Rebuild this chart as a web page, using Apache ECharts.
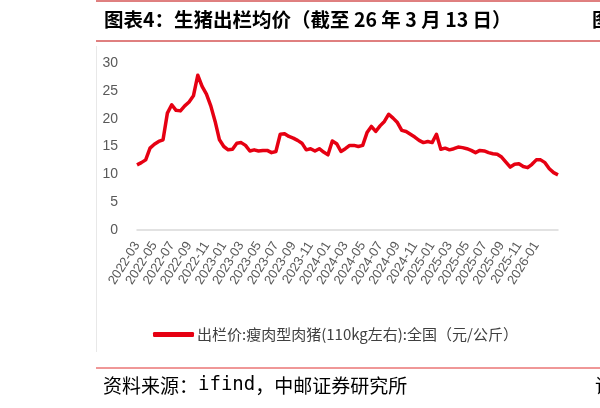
<!DOCTYPE html>
<html>
<head>
<meta charset="utf-8">
<script src="https://cdn.jsdelivr.net/npm/echarts@6/dist/echarts.min.js"></script>
<style>
html,body{margin:0;padding:0;background:#fff;}
#c{width:600px;height:408px;}
</style>
</head>
<body>
<div id="c"></div>
<script>
// Semi-monthly dates (1st and 16th of each month), last point 2026-03-13
var dates = [];
(function(){
  for (var y = 2022; y <= 2026; y++) {
    for (var m = 1; m <= 12; m++) {
      if (y === 2022 && m < 3) continue;
      if (y === 2026 && m > 3) break;
      var mm = (m < 10 ? '0' : '') + m;
      dates.push(y + '-' + mm + '-01');
      if (y === 2026 && m === 3) { dates.push('2026-03-13'); break; }
      dates.push(y + '-' + mm + '-16');
    }
  }
})();

var priceValues = [
  11.7, 12.1, 12.6, 14.7, 15.4, 15.9, 16.2, 21.0, 22.5, 21.5,
  21.4, 22.3, 23.0, 24.1, 27.8, 25.8, 24.4, 22.3, 19.5, 16.2,
  15.0, 14.4, 14.5, 15.6, 15.7, 15.2, 14.2, 14.4, 14.2, 14.3,
  14.3, 13.9, 14.1, 17.2, 17.3, 16.8, 16.5, 16.1, 15.6, 14.4,
  14.6, 14.2, 14.6, 14.0, 13.5, 16.0, 15.5, 14.1, 14.6, 15.2,
  15.2, 15.0, 15.2, 17.5, 18.6, 17.7, 18.7, 19.5, 20.8, 20.1,
  19.3, 17.9, 17.7, 17.2, 16.7, 16.1, 15.7, 15.9, 15.7, 17.2,
  14.5, 14.7, 14.4, 14.6, 14.9, 14.8, 14.6, 14.3, 13.9, 14.3,
  14.2, 13.9, 13.7, 13.6, 13.1, 12.2, 11.3, 11.8, 11.9, 11.4,
  11.2, 11.8, 12.6, 12.6, 12.1, 11.0, 10.3, 9.9
];

var seriesName = '出栏价:瘦肉型肉猪(110kg左右):全国（元/公斤）';
var titleText = '图表4：生猪出栏均价（截至 26 年 3 月 13 日）';

var chart = echarts.init(document.getElementById('c'), null, {renderer: 'canvas'});
chart.setOption({
  backgroundColor: '#fff',
  animation: false,
  grid: {left: 137, right: 42, top: 63, bottom: 178, containLabel: false},
  xAxis: {
    type: 'category',
    data: dates,
    boundaryGap: false,
    axisLine: {show: true, lineStyle: {color: '#d9d9d9', width: 1.5}},
    axisTick: {show: false},
    axisLabel: {
      interval: function (idx) { return idx % 4 === 0 && idx <= 92; },
      formatter: function (v) { return v.slice(0, 7); },
      rotate: 58,
      color: '#595959',
      fontSize: 13,
      fontFamily: 'Liberation Sans',
      margin: 13
    },
    splitLine: {show: false}
  },
  yAxis: {
    type: 'value',
    min: 0, max: 30, interval: 5,
    axisLine: {show: false},
    axisTick: {show: false},
    splitLine: {show: false},
    axisLabel: {color: '#595959', fontSize: 14, fontFamily: 'Liberation Sans', margin: 19}
  },
  legend: {
    data: [seriesName],
    left: 148, top: 322,
    icon: 'roundRect',
    itemWidth: 41, itemHeight: 5,
    itemGap: 3,
    textStyle: {color: '#404040', fontSize: 15, fontFamily: 'Noto Sans CJK SC', padding: [0, 0, 0, -2]}
  },
  series: [{
    name: seriesName,
    type: 'line',
    data: priceValues,
    showSymbol: false,
    symbol: 'none',
    lineStyle: {color: '#e60012', width: 3.5, join: 'round'},
    itemStyle: {color: '#e60012'}
  }],
  graphic: [
    {type: 'line', shape: {x1: 96, y1: 1, x2: 600, y2: 1}, style: {stroke: '#c00000', lineWidth: 1}},
    {type: 'line', shape: {x1: 96, y1: 41, x2: 600, y2: 41}, style: {stroke: '#c00000', lineWidth: 1}},
    {type: 'line', shape: {x1: 96.5, y1: 46, x2: 96.5, y2: 352}, style: {stroke: '#e8e8e8', lineWidth: 1}},
    {type: 'line', shape: {x1: 96, y1: 368, x2: 600, y2: 368}, style: {stroke: '#e03030', lineWidth: 1}},
    {type: 'text', left: 104, top: 10, style: {text: titleText, fill: '#000', font: 'bold 19.5px "Noto Sans CJK SC"'}},
    {type: 'text', left: 592, top: 10, style: {text: '图', fill: '#000', font: 'bold 19.5px "Noto Sans CJK SC"'}},
    {type: 'text', left: 103, top: 376, style: {
      text: '{a|资料来源：}{b|ifind}{a|，中邮证券研究所}',
      fill: '#000',
      rich: {
        a: {fontSize: 19, fontFamily: 'Noto Sans CJK SC', fill: '#000', fontWeight: 'normal'},
        b: {fontSize: 19, fontFamily: 'DejaVu Sans Mono', fill: '#000'}
      }
    }},
    {type: 'text', left: 595, top: 376, style: {text: '请', fill: '#000', font: '19px "Noto Sans CJK SC"'}}
  ]
});
</script>
</body>
</html>
